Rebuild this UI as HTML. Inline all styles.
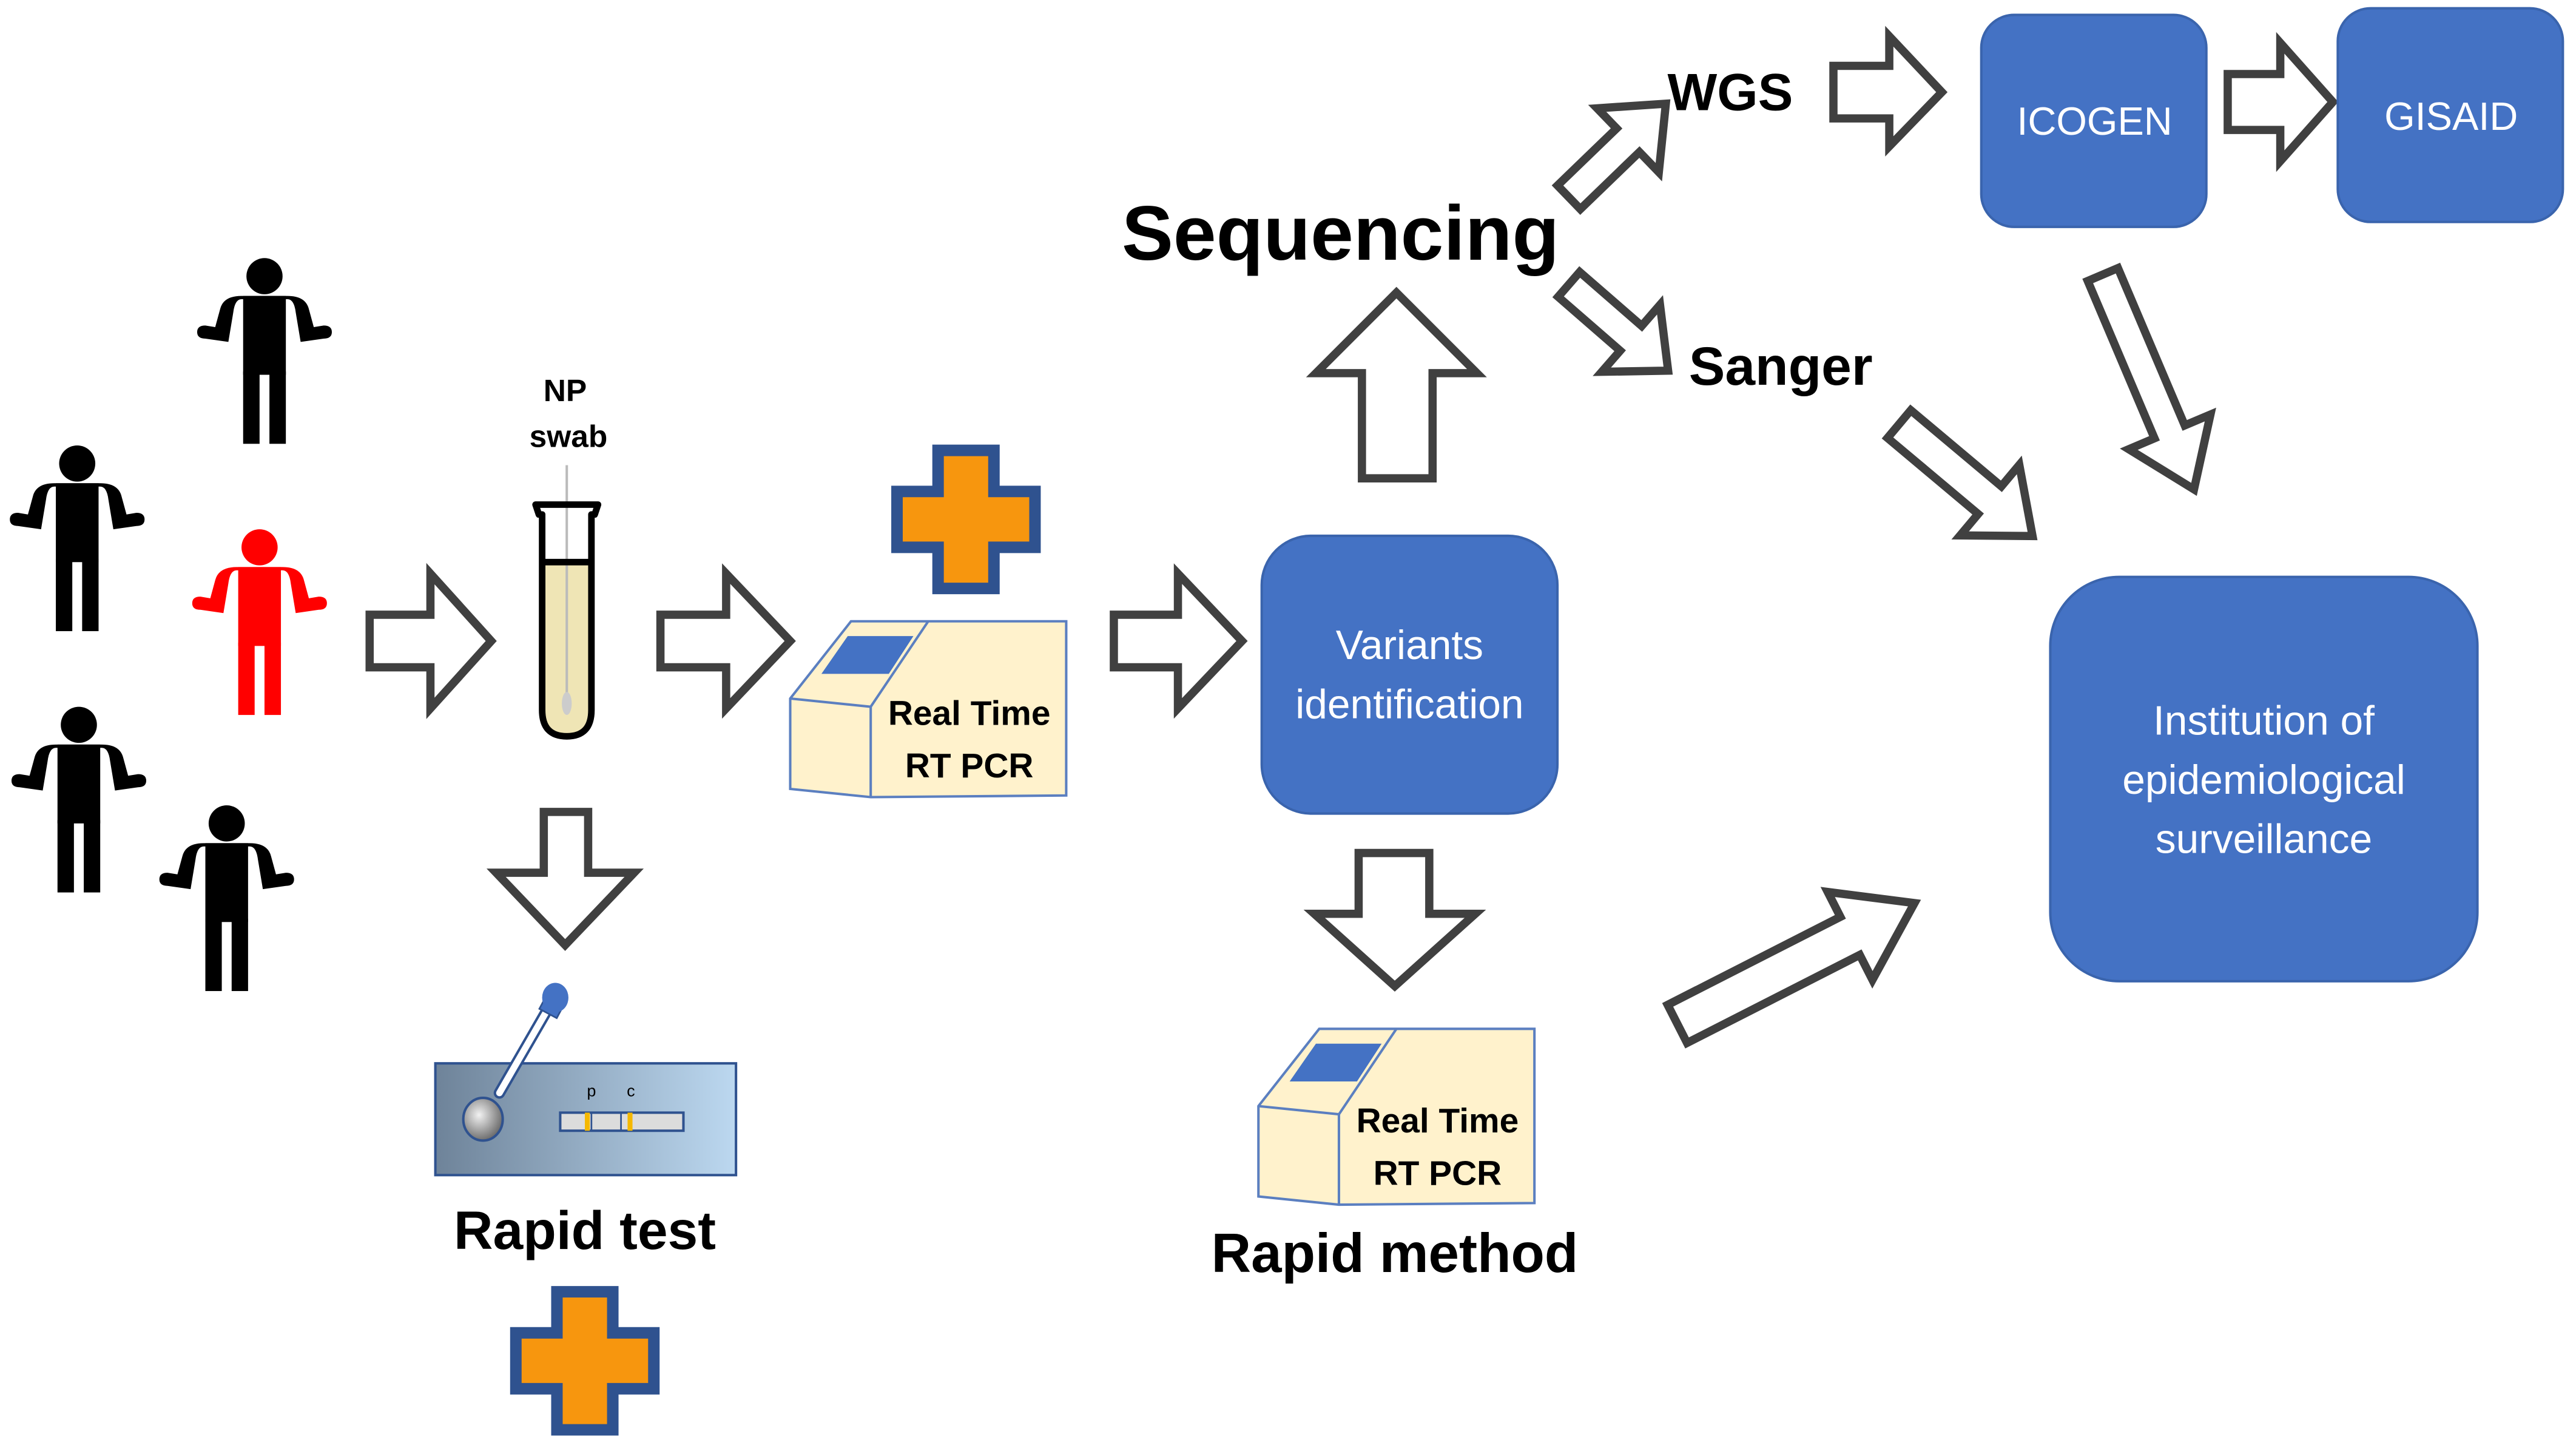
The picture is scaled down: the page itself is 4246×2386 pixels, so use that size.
<!DOCTYPE html>
<html><head><meta charset="utf-8"><style>
html,body{margin:0;padding:0;background:#fff;}
svg{display:block;}
</style></head><body>
<svg width="4246" height="2386" viewBox="0 0 1568 881" xmlns="http://www.w3.org/2000/svg">
<defs>
<linearGradient id="card" x1="0" y1="0" x2="1" y2="0">
<stop offset="0" stop-color="#6e8399"/><stop offset="1" stop-color="#bcd8f0"/>
</linearGradient>
<radialGradient id="ball" cx="0.4" cy="0.4" r="0.6">
<stop offset="0" stop-color="#f2f2f2"/><stop offset="1" stop-color="#6f6f6f"/>
</radialGradient>
<g id="person">
<circle cx="0" cy="10" r="11"/>
<path d="M-14,24 Q-18,24 -19,32 L-22,50 L-36,48 Q-41,48 -41,44 Q-41,40 -36,40 L-30,41 L-27,30 Q-25,22 -14,22 L14,22 Q25,22 27,30 L30,41 L36,40 Q41,40 41,44 Q41,48 36,48 L22,50 L19,32 Q18,24 14,24 Z"/>
<rect x="-13" y="22" width="26" height="48"/>
<rect x="-13" y="68" width="10" height="44"/>
<rect x="3" y="68" width="10" height="44"/>
</g>
<g id="plus">
<path d="M-17,-42 L17,-42 L17,-17 L42,-17 L42,17 L17,17 L17,42 L-17,42 L-17,17 L-42,17 L-42,-17 L-17,-17 Z" fill="#f7960e" stroke="#2f528f" stroke-width="7" stroke-linejoin="miter"/>
</g>
<g id="pcr">
<path d="M0,47 L37,0 L168,0 L168,106 L49,107 L0,102 Z" fill="#fff2cc" stroke="#5b7fc0" stroke-width="1.5"/>
<path d="M0,47 L49,52 L49,107" fill="none" stroke="#5b7fc0" stroke-width="1.5"/>
<path d="M49,52 L84,0" fill="none" stroke="#5b7fc0" stroke-width="1.5"/>
<path d="M19,32 L35,9 L75,9 L60,32 Z" fill="#4472c4"/>
<text x="109" y="63" text-anchor="middle" font-family="Liberation Sans, sans-serif" font-weight="bold" font-size="21">Real Time</text>
<text x="109" y="95" text-anchor="middle" font-family="Liberation Sans, sans-serif" font-weight="bold" font-size="21">RT PCR</text>
</g>
</defs>

<g fill="#000">
<use href="#person" x="161" y="158"/>
<use href="#person" x="47" y="272"/>
<use href="#person" x="48" y="431"/>
<use href="#person" x="138" y="491"/>
</g>
<use href="#person" x="158" y="323" fill="#ff0000"/>

<g fill="#fff" stroke="#404040" stroke-width="5" stroke-linejoin="miter">
<path d="M225,374 L262,374 L262,349 L299,390 L262,431 L262,406 L225,406 Z"/>
<path d="M402,374 L442,374 L442,349 L481,390 L442,431 L442,406 L402,406 Z"/>
<path d="M678,374 L717,374 L717,349 L756,390 L717,431 L717,406 L678,406 Z"/>
<path d="M331,494 L358,494 L358,531 L386,531 L344,575 L302,531 L331,531 Z"/>
<path d="M827,519 L870,519 L870,556 L898,556 L849,600 L800,556 L827,556 Z"/>
<path d="M829,291 L872,291 L872,227 L899,227 L850,178 L801,227 L829,227 Z"/>
<path d="M1116,40 L1150,40 L1150,22 L1182,56 L1150,89 L1150,72 L1116,72 Z"/>
<path d="M1356,45 L1388,45 L1388,26 L1420,62 L1388,98 L1388,79 L1356,79 Z"/>
<g transform="translate(955,120) rotate(-44)"><path d="M0,-10 L50,-10 L50,-27 L82,0 L50,27 L50,10 L0,10 Z"/></g>
<g transform="translate(955,173) rotate(41)"><path d="M0,-10 L50,-10 L50,-27 L80,0 L50,27 L50,10 L0,10 Z"/></g>
<g transform="translate(1156,258) rotate(40)"><path d="M0,-11 L72,-11 L72,-28 L106,0 L72,28 L72,11 L0,11 Z"/></g>
<g transform="translate(1280,167) rotate(67)"><path d="M0,-10 L104,-10 L104,-27 L142,0 L104,27 L104,10 L0,10 Z"/></g>
<g transform="translate(1021,623) rotate(-27)"><path d="M0,-13 L118,-13 L118,-30 L162,0 L118,30 L118,13 L0,13 Z"/></g>
</g>

<text x="344" y="244" text-anchor="middle" font-family="Liberation Sans, sans-serif" font-weight="bold" font-size="19">NP</text>
<text x="346" y="272" text-anchor="middle" font-family="Liberation Sans, sans-serif" font-weight="bold" font-size="19">swab</text>
<path d="M330,343 L360,343 L360,432 Q360,448 345,448 Q330,448 330,432 Z" fill="#efe5b5"/>
<line x1="345" y1="283" x2="345" y2="425" stroke="#bbb" stroke-width="1.5"/>
<ellipse cx="345" cy="428" rx="3" ry="7" fill="#ccc"/>
<path d="M326,307 L364,307 L362,313 L360,313 L360,432 Q360,448 345,448 Q330,448 330,432 L330,313 L328,313 Z" fill="none" stroke="#000" stroke-width="4" stroke-linejoin="round"/>
<line x1="330" y1="342" x2="360" y2="342" stroke="#000" stroke-width="4"/>

<use href="#plus" x="588" y="316"/>
<use href="#plus" x="356" y="828"/>

<use href="#pcr" x="481" y="378"/>
<use href="#pcr" x="766" y="626"/>

<rect x="265" y="647" width="183" height="68" fill="url(#card)" stroke="#2f528f" stroke-width="1.5"/>
<line x1="304" y1="665" x2="334" y2="613" stroke="#2f528f" stroke-width="7" stroke-linecap="round"/>
<line x1="304" y1="665" x2="334" y2="613" stroke="#fff" stroke-width="4" stroke-linecap="round"/>
<rect x="329" y="612" width="12" height="5" fill="#4472c4" stroke="#2f528f" transform="rotate(28 335 614)"/>
<ellipse cx="338" cy="607" rx="8" ry="9" fill="#4472c4"/>
<ellipse cx="294" cy="681" rx="12" ry="13" fill="url(#ball)" stroke="#2f528f" stroke-width="1.5"/>
<rect x="341" y="677" width="75" height="11" fill="#dcdcdc" stroke="#2f528f" stroke-width="1.5"/>
<rect x="356" y="677" width="3" height="11" fill="#f5b800"/>
<rect x="382" y="677" width="3" height="11" fill="#f5b800"/>
<line x1="360" y1="677" x2="360" y2="688" stroke="#2f528f"/>
<line x1="378" y1="677" x2="378" y2="688" stroke="#2f528f"/>
<text x="360" y="667" text-anchor="middle" font-family="Liberation Sans, sans-serif" font-size="10">p</text>
<text x="384" y="667" text-anchor="middle" font-family="Liberation Sans, sans-serif" font-size="10">c</text>

<g font-family="Liberation Sans, sans-serif" font-weight="bold" fill="#000">
<text x="356" y="760" text-anchor="middle" font-size="33">Rapid test</text>
<text x="849" y="774" text-anchor="middle" font-size="33.5">Rapid method</text>
<text x="816" y="158" text-anchor="middle" font-size="47">Sequencing</text>
<text x="1015" y="67" font-size="32">WGS</text>
<text x="1028" y="234" font-size="33">Sanger</text>
</g>

<g fill="#4472c4" stroke="#3a64ad" stroke-width="1.5">
<rect x="1206" y="9" width="137" height="129" rx="20"/>
<rect x="1423" y="5" width="137" height="130" rx="20"/>
<rect x="768" y="326" width="180" height="169" rx="30"/>
<rect x="1248" y="351" width="260" height="246" rx="42"/>
</g>
<g font-family="Liberation Sans, sans-serif" fill="#fff" text-anchor="middle">
<text x="1275" y="82" font-size="24">ICOGEN</text>
<text x="1492" y="79" font-size="24">GISAID</text>
<text x="858" y="401" font-size="25">Variants</text>
<text x="858" y="437" font-size="25">identification</text>
<text x="1378" y="447" font-size="25">Institution of</text>
<text x="1378" y="483" font-size="25">epidemiological</text>
<text x="1378" y="519" font-size="25">surveillance</text>
</g>
</svg>
</body></html>
